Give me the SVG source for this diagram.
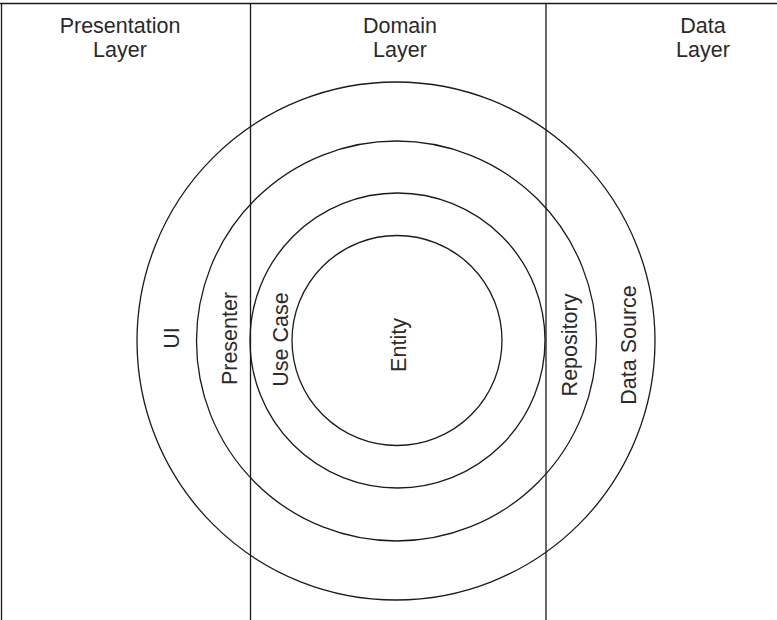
<svg xmlns="http://www.w3.org/2000/svg" width="777" height="620" viewBox="0 0 777 620">
  <style>
    .ln { fill: none; stroke: #1a1a1a; stroke-width: 1.3; }
    .ring { fill: none; stroke: #1a1a1a; stroke-width: 1.3; }
    .lbl { font-family: "Liberation Sans", Arial, Helvetica, sans-serif; font-size: 21.5px; fill: #2a2a2a; text-anchor: middle; }
  </style>
  <rect x="0" y="0" width="777" height="620" fill="#ffffff"/>

  <!-- frame and layer separators -->
  <g id="frame">
    <line class="ln" x1="0" y1="3.5" x2="777" y2="3.5"/>
    <line class="ln" x1="1.5" y1="3.5" x2="1.5" y2="620"/>
    <line class="ln" x1="250.5" y1="3.5" x2="250.5" y2="620"/>
    <line class="ln" x1="546" y1="3.5" x2="546" y2="620"/>
  </g>

  <!-- layer titles -->
  <g id="presentation-layer">
    <text class="lbl" x="120" y="33">Presentation</text>
    <text class="lbl" x="120" y="57">Layer</text>
  </g>
  <g id="domain-layer">
    <text class="lbl" x="400" y="33">Domain</text>
    <text class="lbl" x="400" y="57">Layer</text>
  </g>
  <g id="data-layer">
    <text class="lbl" x="703" y="33">Data</text>
    <text class="lbl" x="703" y="57">Layer</text>
  </g>

  <!-- concentric rings, outermost first -->
  <g id="ring-ui">
    <circle class="ring" cx="396" cy="341" r="259"/>
    <text class="lbl" transform="translate(179 338) rotate(-90)">UI</text>
  </g>
  <g id="ring-presenter-repository">
    <circle class="ring" cx="396.5" cy="341" r="200"/>
    <text class="lbl" transform="translate(237 338.5) rotate(-90)">Presenter</text>
  </g>
  <g id="ring-usecase">
    <circle class="ring" cx="397.5" cy="340.5" r="147.5"/>
    <text class="lbl" transform="translate(288 339.5) rotate(-90)">Use Case</text>
  </g>
  <g id="ring-entity">
    <circle class="ring" cx="397" cy="340.5" r="105"/>
    <text class="lbl" transform="translate(406 345) rotate(-90)">Entity</text>
  </g>
  <g id="label-repository">
    <text class="lbl" transform="translate(577 345) rotate(-90)">Repository</text>
  </g>
  <g id="label-data-source">
    <text class="lbl" transform="translate(636 345) rotate(-90)">Data Source</text>
  </g>
</svg>
